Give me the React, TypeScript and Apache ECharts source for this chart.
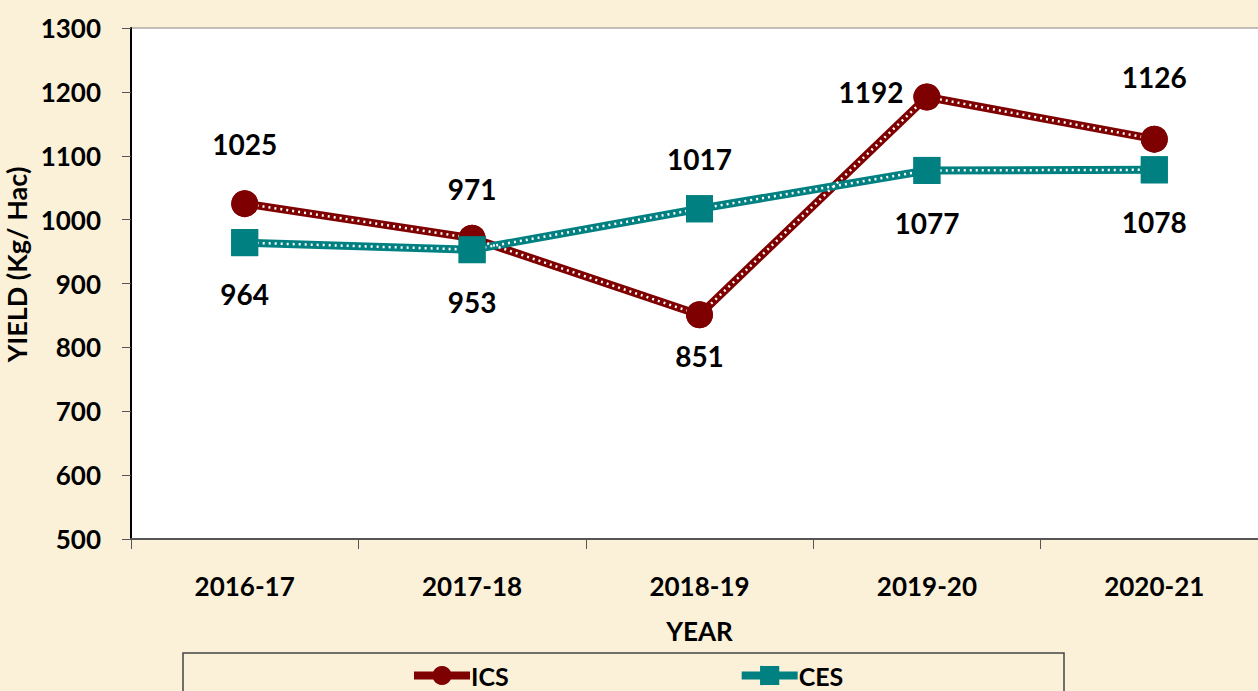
import React, { useEffect, useRef } from "react";
import * as echarts from "echarts";

const categories = ["2016-17", "2017-18", "2018-19", "2019-20", "2020-21"];
const icsValues = [1025, 971, 851, 1192, 1126];
const cesValues = [964, 953, 1017, 1077, 1078];
const yTicks = { min: 500, max: 1300, interval: 100 };

const FONT = "Lato";
const ICS_COLOR = "#7f0000";
const CES_COLOR = "#008080";

// label placements (style only)
const icsLabelPos = [
  { position: "top", distance: 32 },
  { position: "top", distance: 22 },
  { position: "bottom", distance: 14 },
  { position: "left", distance: 10, offset: [0, -5] },
  { position: "top", distance: 35 },
];
const cesLabelPos = [
  { position: "bottom", distance: 24 },
  { position: "bottom", distance: 25 },
  { position: "top", distance: 22 },
  { position: "bottom", distance: 25 },
  { position: "bottom", distance: 25 },
];

export default function App() {
  const ref = useRef<HTMLDivElement>(null);
  useEffect(() => {
    if (!ref.current) return;
    const chart = echarts.init(ref.current, null, { renderer: "svg" });
    const labelBase = {
      show: true,
      fontFamily: FONT,
      fontWeight: "bold",
      fontSize: 28,
      color: "#000",
    };
    const mkData = (vals: number[], pos: any[]) =>
      vals.map((v, i) => ({ value: v, label: { ...labelBase, ...pos[i] } }));

    const mainLine = (name: string, vals: number[], color: string, symbol: string) => ({
      name,
      type: "line",
      data: vals,
      symbol,
      symbolSize: 27,
      showSymbol: true,
      itemStyle: { color },
      lineStyle: { color, width: 8 },
      z: 2,
      silent: true,
    });
    const dotLine = (name: string, vals: number[]) => ({
      name,
      type: "line",
      data: vals,
      symbol: "none",
      lineStyle: { color: "#ffffff", width: 2.5, type: [2, 4] },
      z: 3,
      silent: true,
    });
    const symLine = (name: string, vals: number[], color: string, symbol: string, pos: any[], z: number) => ({
      name,
      type: "line",
      data: mkData(vals, pos),
      symbol,
      symbolSize: 27,
      showSymbol: true,
      itemStyle: { color },
      lineStyle: { opacity: 0, width: 0 },
      z,
      silent: true,
    });

    chart.setOption({
      animation: false,
      backgroundColor: "#fbf0d8",
      textStyle: { fontFamily: FONT },
      grid: {
        left: 131,
        top: 28,
        right: -10,
        bottom: 152,
        outerBoundsMode: "none",
        containLabel: false,
        show: true,
        backgroundColor: "#ffffff",
        borderColor: "#888888",
        borderWidth: 1,
      },
      legend: {
        left: 410,
        top: 663,
        data: ["ICS", "CES"],
        itemWidth: 56,
        itemHeight: 24,
        itemGap: 229,
        padding: 0,
        lineStyle: { width: 8 },
        textStyle: { fontFamily: FONT, fontWeight: "bold", fontSize: 25, color: "#000", padding: [0, 0, 0, -4] },
      },
      xAxis: {
        type: "category",
        data: categories,
        boundaryGap: true,
        name: "YEAR",
        nameLocation: "middle",
        nameGap: 79,
        nameTextStyle: { fontFamily: FONT, fontWeight: "bold", fontSize: 26, color: "#000" },
        axisLine: { lineStyle: { color: "#555", width: 2 } },
        axisTick: { show: true, alignWithLabel: false, length: 10, lineStyle: { color: "#555" } },
        axisLabel: { margin: 34, fontFamily: FONT, fontWeight: "bold", fontSize: 26, color: "#000" },
        splitLine: { show: false },
      },
      yAxis: {
        type: "value",
        min: yTicks.min,
        max: yTicks.max,
        interval: yTicks.interval,
        name: "YIELD (Kg/ Hac)",
        nameLocation: "middle",
        nameGap: 92,
        nameRotate: 90,
        nameTextStyle: {
          fontFamily: FONT,
          fontWeight: "bold",
          fontSize: 27,
          color: "#000",
          padding: [0, 0, 0, 38],
        },
        axisLine: { show: true, lineStyle: { color: "#000", width: 2 } },
        axisTick: { show: true, length: 9, lineStyle: { color: "#555" } },
        axisLabel: {
          margin: 30,
          fontFamily: FONT,
          fontWeight: "bold",
          fontSize: 26,
          color: "#000",
          formatter: (v: number) => String(v),
        },
        splitLine: { show: false },
      },
      graphic: [
        {
          type: "rect",
          shape: { x: 183, y: 653, width: 881, height: 60 },
          style: { fill: "none", stroke: "#444", lineWidth: 1.5 },
          z: 0,
        },
      ],
      series: [
        mainLine("ICS", icsValues, ICS_COLOR, "circle"),
        dotLine("ICS-dots", icsValues),
        mainLine("CES", cesValues, CES_COLOR, "rect"),
        dotLine("CES-dots", cesValues),
        symLine("ICS-pts", icsValues, ICS_COLOR, "circle", icsLabelPos, 4),
        symLine("CES-pts", cesValues, CES_COLOR, "rect", cesLabelPos, 5),
      ],
    });
    return () => chart.dispose();
  }, []);
  return (
    <div
      ref={ref}
      style={{ position: "fixed", left: 0, top: 0, width: 1258, height: 691 }}
    />
  );
}
